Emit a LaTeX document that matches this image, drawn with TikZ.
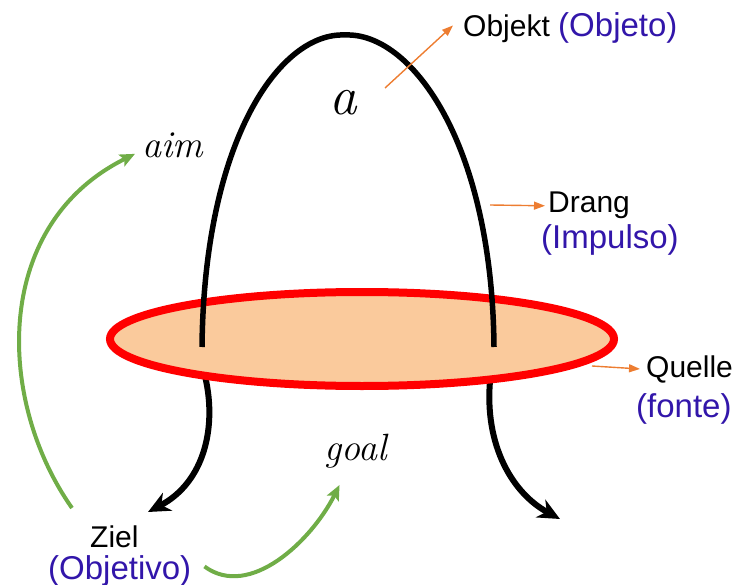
\documentclass[tikz,border=0pt]{standalone}
\usepackage{fontspec}
\newfontfamily\labelfont{Liberation Sans}
\usepackage{xcolor}
\usepackage{tikz}
\usetikzlibrary{arrows.meta}
\definecolor{peach}{RGB}{250,202,156}
\definecolor{tagblue}{RGB}{50,22,170}
\definecolor{arrgreen}{RGB}{112,173,71}
\definecolor{arrorange}{RGB}{237,125,49}

\begin{document}
\begin{tikzpicture}[x=1pt,y=-1pt,
  de/.style={font=\labelfont\fontsize{30}{36}\selectfont,inner sep=0pt,anchor=base west},
  pt/.style={de,font=\labelfont\fontsize{33}{38}\selectfont,text=tagblue},
  greek/.style={font=\itshape\fontsize{38}{44}\selectfont,inner sep=0pt,anchor=base west},
  pointer/.style={arrorange,line width=1.4pt,-{Triangle[length=11pt,width=8pt]}},
  drive/.style={line width=5.5pt},
  flow/.style={line width=6pt,-{Stealth[length=22pt,width=20pt,inset=7pt]}},
  turn/.style={arrgreen,line width=4pt,-{Stealth[length=15pt,width=13pt,inset=3pt]}}]
  \useasboundingbox (0,0) rectangle (733,585);

  % labels
  \node[de] (objekt) at (463,37) {Objekt {\fontsize{33}{38}\selectfont\color{tagblue}(Objeto)}};
  \node[de] (drang) at (548,213) {Drang};
  \node[pt] (impulso) at (541,248) {(Impulso)};
  \node[de] (quelle) at (646,377) {Quelle};
  \node[pt] (fonte) at (636,417) {(fonte)};
  \node[de] (ziel) at (90,547) {Ziel};
  \node[pt] (objetivo) at (48,579) {(Objetivo)};
  \node[greek,font=\itshape\fontsize{55}{60}\selectfont] (a) at (329,115) {a};
  \node[greek] (aim) at (142,158) {aim};
  \node[greek] (goal) at (324,460) {goal};

  % lower ends of the drive
  \coordinate (lfoot) at (204,372);
  \coordinate (rfoot) at (491,372);
  \draw[flow] (lfoot) .. controls (218,425) and (205,482) .. (148,512);
  \draw[flow] (rfoot) .. controls (482,440) and (510,492) .. (560,519);

  % source
  \draw[red,line width=8pt,fill=peach] (362,339) ellipse [x radius=252,y radius=47];

  % the arch
  \draw[drive] (202,347) .. controls (204,140) and (280,32) .. (345,35)
    .. controls (410,32) and (492,140) .. (494,347);

  % pointers
  \coordinate (objtail) at (385,88);
  \coordinate (drangtail) at (490,205);
  \coordinate (quelletail) at (592,366);
  \draw[pointer] (objtail) -- ([shift={(-10,-3)}]objekt.west);
  \draw[pointer] (drangtail) -- ([xshift=-3pt]drang.west);
  \draw[pointer] (quelletail) -- ([xshift=-6pt]quelle.west);

  % aim and goal
  \coordinate (aimstart) at (72,508);
  \draw[turn] (aimstart) .. controls (-4,400) and (-8,225) .. ([shift={(-7,8)}]aim.west);
  \draw[turn] ([shift={(13,-4)}]objetivo.east) .. controls (250,600) and (312,540) .. ([shift={(-16,17)}]goal.south);
\end{tikzpicture}
\end{document}
